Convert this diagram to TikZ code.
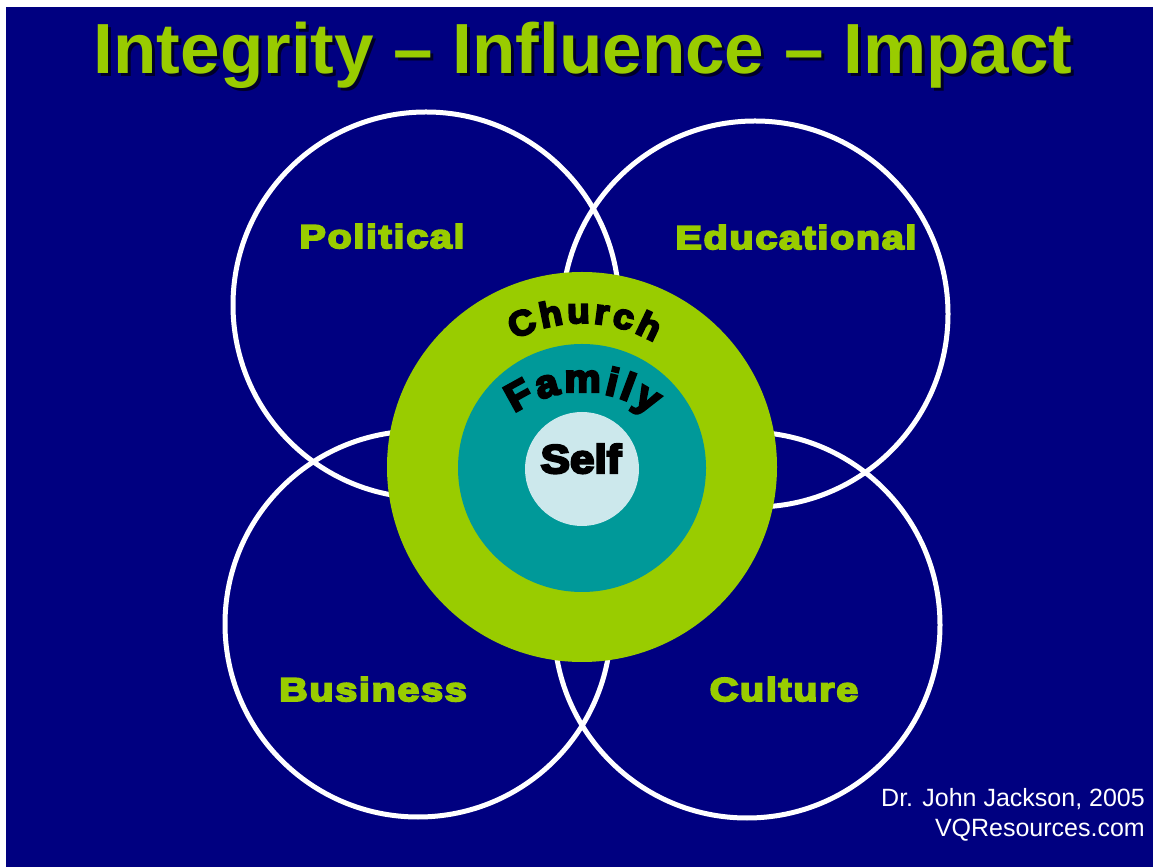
\documentclass[tikz,border=0pt]{standalone}
\usepackage{fontspec}
\setmainfont{Liberation Sans}
\newfontfamily\boldfont{Liberation Sans Bold}
\newfontfamily\labfont[LetterSpace=5,FakeStretch=1.2,FakeBold=6]{Liberation Sans Bold}
\newfontfamily\selffont[FakeStretch=1.1,FakeBold=6]{Liberation Sans Bold}
\newfontfamily\curvefont[FakeStretch=1.05,FakeBold=6]{Liberation Sans Bold}
\usetikzlibrary{decorations.text}
\definecolor{navy}{RGB}{0,0,128}
\definecolor{lime}{RGB}{153,204,0}
\definecolor{tealc}{RGB}{0,153,153}
\definecolor{selfc}{RGB}{204,232,236}
\definecolor{shadowc}{RGB}{0,0,40}
\newcommand\churchfmt{\curvefont\fontsize{35}{40}\selectfont}
\newcommand\familyfmt{\curvefont\fontsize{39}{44}\selectfont}
\begin{document}
\begin{tikzpicture}[x=1pt,y=1pt,
  ring/.style={draw=white, line width=5pt},
  ttl/.style={font=\boldfont\fontsize{71}{80}\selectfont, anchor=base, inner sep=0pt},
  lab/.style={text=lime, font=\labfont\fontsize{33}{38}\selectfont, anchor=base, inner sep=0pt},
  foot/.style={text=white, font=\fontsize{25}{30}\selectfont, anchor=base east, inner sep=0pt}]
\useasboundingbox (0,0) rectangle (1153,867);
\fill[white] (0,0) rectangle (1153,867);
\fill[navy] (6,0) rectangle (1153,860);
% outer rings
\draw[ring] (426,562) circle[radius=193];
\draw[ring] (755,553) circle[radius=193];
\draw[ring] (418,243) circle[radius=193];
\draw[ring] (747,242) circle[radius=193];
% concentric discs
\coordinate (ctr) at (582,400);
\coordinate (fctr) at (582,357);
\fill[lime] (582,400) circle[radius=195];
\fill[tealc] (582,399) circle[radius=124];
\fill[selfc] (582,398) circle[radius=57];
% curved texts
\path[decorate, decoration={text along path, text={|\churchfmt|Church}, text align={fit to path}}]
  ([shift={(118:144)}]ctr) arc[start angle=118, end angle=60, radius=144];
\path[decorate, decoration={text along path, text={|\familyfmt|Family}, text align={fit to path}}]
  ([shift={(125:118)}]fctr) arc[start angle=125, end angle=54, radius=118];
% title
\node[ttl, text=shadowc] (titleshadow) at (586,790) {Integrity – Influence – Impact};
\node[ttl, text=lime] (title) at (583,793) {Integrity – Influence – Impact};
% labels
\node[lab] (political) at (382,619) {Political};
\node[lab] (educational) at (796,618) {Educational};
\node[lab] (business) at (373,166) {Business};
\node[lab] (culture) at (784,166) {Culture};
\node[text=black, font=\selffont\fontsize{40}{44}\selectfont, anchor=base, inner sep=0pt] (selflab) at (581,394) {Self};
% footer
\node[foot] (author) at (1145,60) {Dr. John Jackson, 2005};
\node[foot] (site) at (1145,31) {VQResources.com};
\end{tikzpicture}
\end{document}
